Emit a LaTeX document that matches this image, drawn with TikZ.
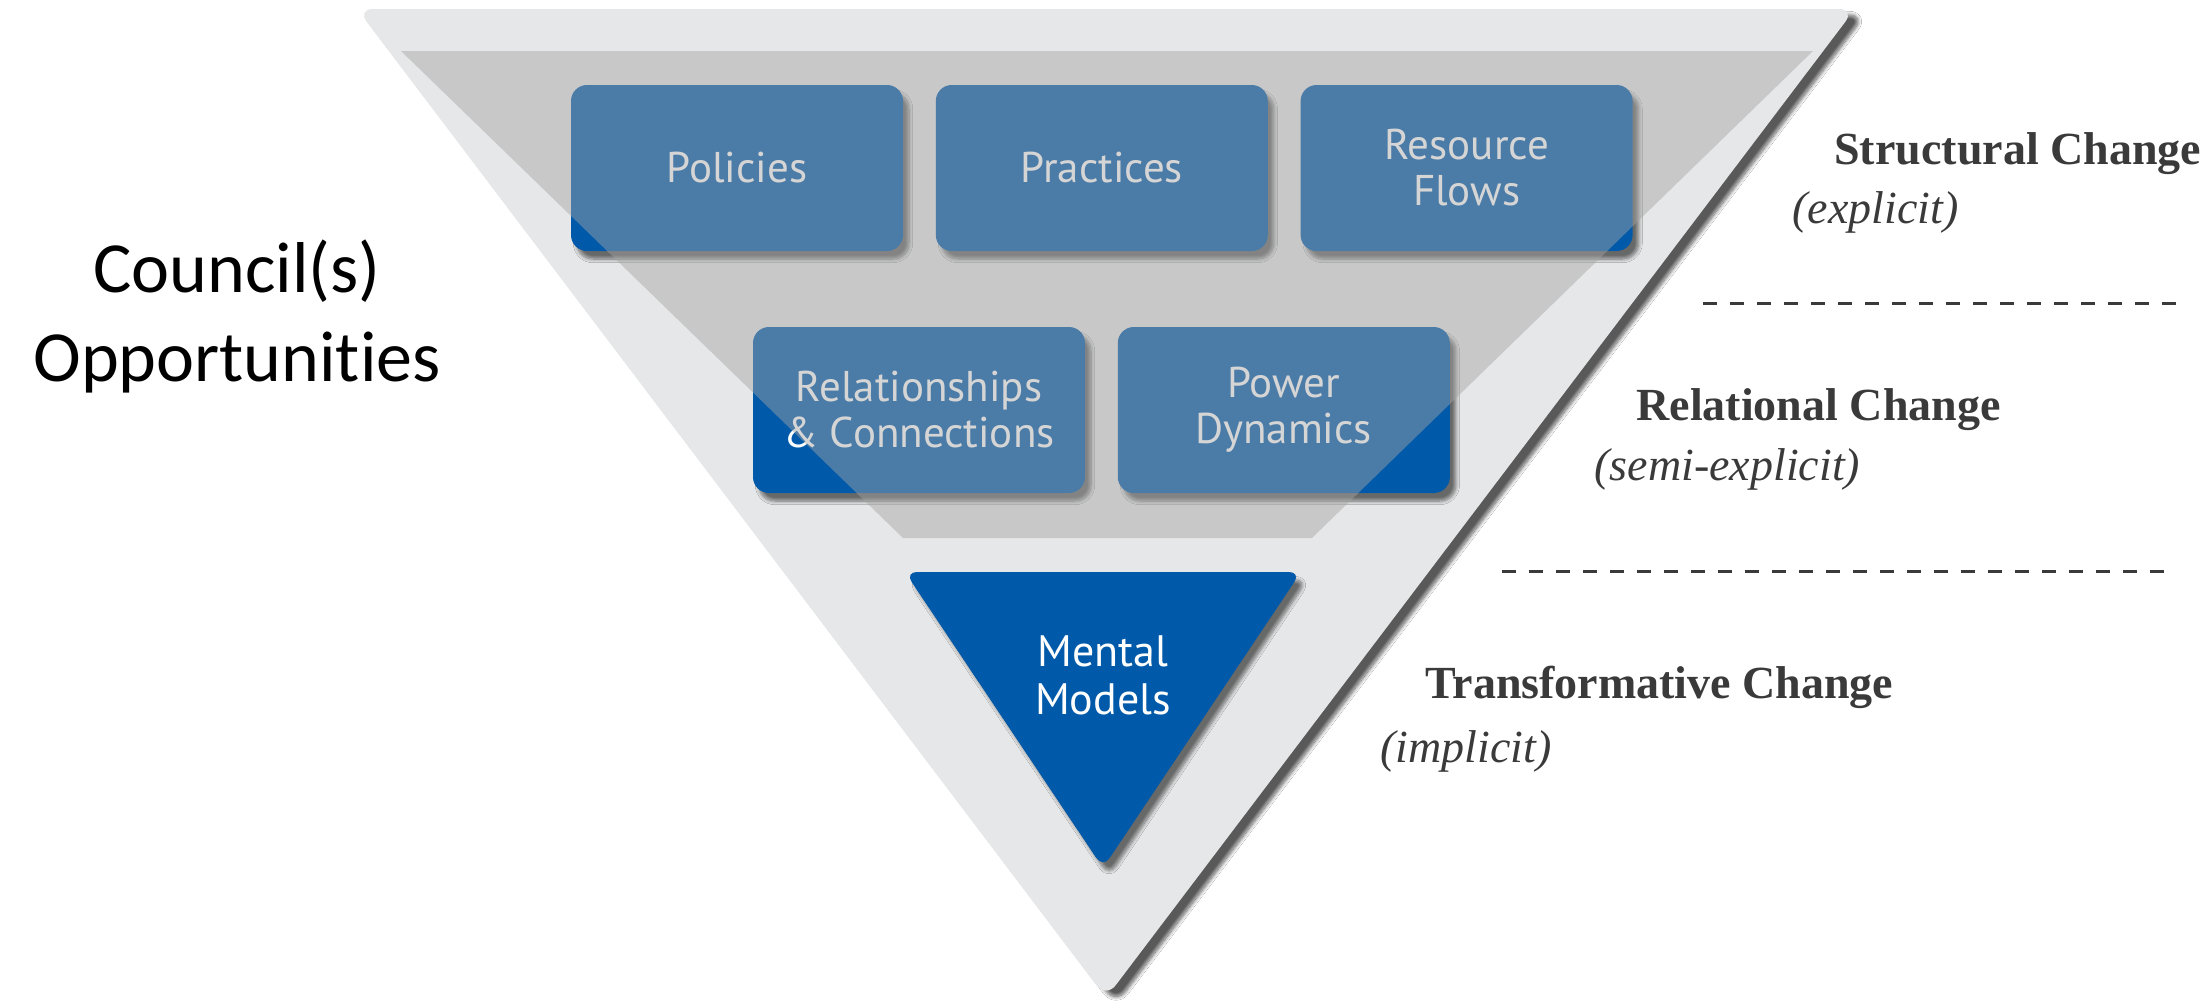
\documentclass[tikz,border=0pt]{standalone}
\usepackage{fontspec}
\setmainfont{Liberation Serif}
\newfontfamily\leverfont{PT Sans}
\newfontfamily\councilfont[Ligatures=NoCommon]{Carlito}
\usetikzlibrary{positioning,shadows.blur}
\definecolor{levblue}{RGB}{0,89,169}
\definecolor{funnelgray}{RGB}{230,231,232}
\definecolor{overlaygray}{RGB}{165,165,165}
\definecolor{labelgray}{RGB}{58,58,58}

\begin{document}
\begin{tikzpicture}[%
    x=0.5pt,
    y=-0.5pt,
    node distance=16pt,
    leverbox/.style={%
      rectangle,
      rounded corners=8pt,
      fill=levblue,
      minimum width=166pt,
      minimum height=83pt,
      align=center,
      text=white,
      font=\leverfont\fontsize{21.5}{23}\selectfont,
      blur shadow={shadow xshift=3pt,shadow yshift=-4pt,shadow blur steps=8,shadow opacity=55}
    },
    changetitle/.style={%
      anchor=base west,
      inner sep=0pt,
      text=labelgray,
      font=\bfseries\fontsize{23}{27}\selectfont
    },
    changenote/.style={%
      anchor=base west,
      inner sep=0pt,
      text=labelgray,
      font=\itshape\fontsize{23}{27}\selectfont
    },
    levelline/.style={labelgray,line width=1.5pt,dash pattern=on 7pt off 6.5pt}
  ]
    \fill[white] (0,0) rectangle (2212,1002);
    \useasboundingbox (0,0) rectangle (2212,1002);

    % funnel
    \fill[funnelgray,rounded corners=8pt,
      blur shadow={shadow xshift=5pt,shadow yshift=-3pt,shadow blur steps=10,shadow opacity=65}]
      (357,9) -- (1855,9) -- (1106,998) -- cycle;

    \node[leverbox] (policies)  at (737,168)              {Policies};
    \node[leverbox] (practices) [right=of policies]       {Practices};
    \node[leverbox] (resources) [right=of practices]      {Resource\\Flows};
    \node[leverbox] (relations) at (919,410)              {Relationships\\\& Connections};
    \node[leverbox] (power)     [right=of relations]      {Power\\Dynamics};

    \fill[levblue,rounded corners=6pt,
      blur shadow={shadow xshift=3pt,shadow yshift=-4pt,shadow blur steps=8,shadow opacity=55}]
      (905,572) -- (1301,572) -- (1103,868) -- cycle;
    \node[align=center,text=white,font=\leverfont\fontsize{22}{24}\selectfont] (mental) at (1103,675) {Mental\\Models};

    % explicit levels under grey veil
    \fill[overlaygray,fill opacity=0.46] (401,51) -- (1813,51) -- (1312,538) -- (903,538) -- cycle;

    \node[align=center,font=\councilfont\fontsize{36}{44.5}\selectfont] (council) at (237,316) {Council(s)\\Opportunities};

    \node[changetitle] (structural)     at (1834,164) {Structural Change};
    \node[changenote]  (explicit)       at (1792,223) {(explicit)};
    \node[changetitle] (relational)     at (1636,420) {Relational Change};
    \node[changenote]  (semiexplicit)   at (1594,480) {(semi-explicit)};
    \node[changetitle] (transformative) at (1425,698) {Transformative Change};
    \node[changenote]  (implicit)       at (1380,762) {(implicit)};

    \draw[levelline] (1703,303) -- (2184,303);
    \draw[levelline] (1502,571) -- (2172,571);
  \end{tikzpicture}
\end{document}
